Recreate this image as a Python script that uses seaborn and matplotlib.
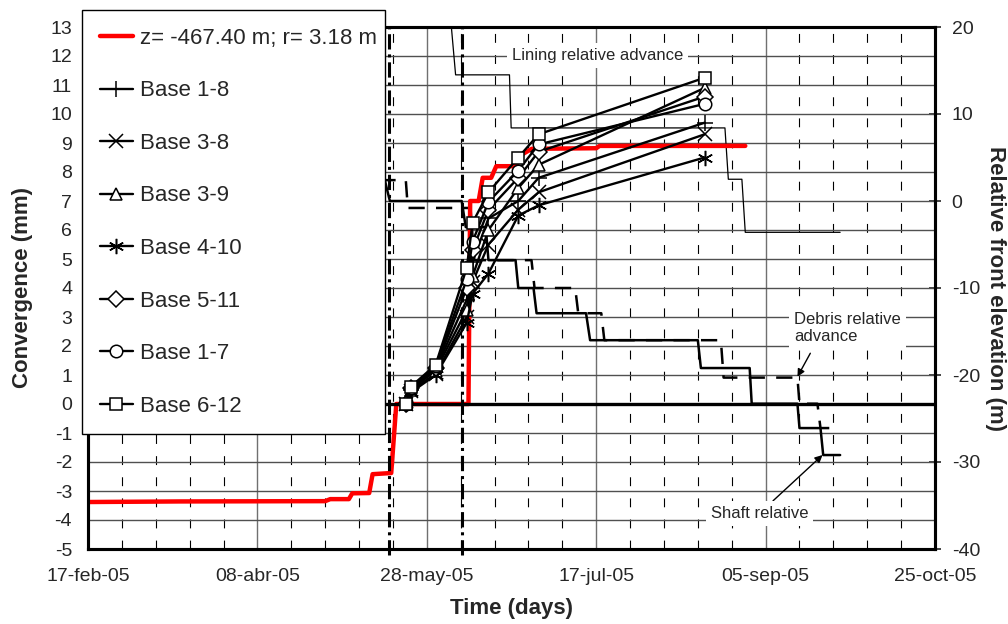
import matplotlib
matplotlib.use('Agg')
import matplotlib.pyplot as plt
import seaborn as sns
from matplotlib.ticker import FixedLocator, MultipleLocator
from matplotlib.transforms import blended_transform_factory

# ---------------- data ----------------
# x positions are days after 17-feb-05
x_tick_days = [0, 50, 100, 150, 200, 250]
x_tick_labels = ['17-feb-05', '08-abr-05', '28-may-05', '17-jul-05', '05-sep-05', '25-oct-05']
conv_ticks = list(range(-5, 14))
elev_ticks = list(range(-40, 21, 10))

red_label = 'z= -467.40 m; r= 3.18 m'
red_days = [0, 27, 70, 71.5, 77, 78, 83, 84, 89.5, 91, 112.3, 112.8, 115.3, 116.5,
            119, 120.5, 126.3, 128, 131, 150, 151, 194]
red_conv = [-3.38, -3.36, -3.35, -3.28, -3.28, -3.08, -3.07, -2.42, -2.38, 0, 0, 7.0, 7.0, 7.8,
            7.8, 8.2, 8.2, 8.6, 8.8, 8.82, 8.9, 8.9]

base_days = [94, 95.3, 102.6, 111.8, 113.5, 118.2, 127, 133, 182]
base_names = ['Base 1-8', 'Base 3-8', 'Base 3-9', 'Base 4-10', 'Base 5-11', 'Base 1-7', 'Base 6-12']
base_1_8 = [0, 0.50, 1.20, 3.60, 4.90, 6.40, 7.00, 7.80, 9.70]
base_3_8 = [0, 0.45, 1.05, 3.00, 4.20, 5.50, 6.70, 7.30, 9.30]
base_3_9 = [0, 0.50, 1.15, 3.25, 4.40, 6.00, 7.45, 8.25, 10.90]
base_4_10 = [0, 0.40, 1.00, 2.80, 3.80, 4.50, 6.50, 6.85, 8.50]
base_5_11 = [0, 0.55, 1.25, 4.00, 5.30, 6.70, 7.80, 8.70, 10.60]
base_1_7 = [0, 0.55, 1.30, 4.30, 5.60, 6.97, 8.05, 8.95, 10.35]
base_6_12 = [0, 0.60, 1.35, 4.70, 6.25, 7.30, 8.50, 9.30, 11.25]

lining_days = [106.8, 108.5, 124.4, 124.9, 188, 189, 193, 194, 222]
lining_elev = [22, 14.5, 14.5, 8.4, 8.4, 2.5, 2.5, -3.6, -3.6]

shaft_days = [86, 87.6, 89.1, 110.3, 111.5, 117.4, 118.2, 126.2, 127, 131.5, 132.4, 147, 148.2,
              180, 180.9, 195.3, 195.9, 209.4, 210, 216.2, 217, 222]
shaft_elev = [2.4, 2.4, 0, 0, -3, -3, -6.8, -6.8, -10, -10, -12.9, -12.9, -16,
              -16, -19.2, -19.2, -23.3, -23.3, -26.1, -26.1, -29.2, -29.2]

debris_days = [86, 93.8, 94.4, 112.9, 114, 130.9, 131.8, 143.8, 144.7, 151.5, 152.4, 186.8,
               187.6, 209.4, 210, 215.3, 216.2, 222]
debris_elev = [2.4, 2.4, -0.8, -0.8, -6.8, -6.8, -10, -10, -12.9, -12.9, -16, -16,
               -20.3, -20.3, -23.3, -23.3, -26.1, -26.1]

event_days = [88.8, 110.3]

# ---------------- style ----------------
sns.set_style('white')
plt.rcParams['font.family'] = ['Liberation Sans', 'DejaVu Sans']
plt.rcParams['axes.unicode_minus'] = False

W, H = 1008, 624
fig = plt.figure(figsize=(W / 100, H / 100), dpi=100)
ax_e = fig.add_axes([88 / W, 1 - 549 / H, 847 / W, 522 / H])   # right scale (bottom layer)
ax_c = ax_e.twinx()                                           # left scale (top layer)
ax_c.yaxis.tick_left()
ax_c.yaxis.set_label_position('left')
ax_e.yaxis.tick_right()
ax_e.yaxis.set_label_position('right')

# ---- elevation (right) axis: grid + step lines ----
ax_e.xaxis.set_major_locator(FixedLocator(x_tick_days))
ax_e.xaxis.set_minor_locator(MultipleLocator(10))
ax_e.xaxis.grid(True, which='major', color='#707070', linewidth=1.0)
ax_e.xaxis.grid(True, which='minor', color='black', linewidth=0.8, linestyle=(0, (8, 11)))
ax_e.yaxis.grid(False)

sns.lineplot(x=lining_days, y=lining_elev, ax=ax_e, color='black', linewidth=0.9,
             sort=False, estimator=None, zorder=2)
sns.lineplot(x=debris_days, y=debris_elev, ax=ax_e, color='black', linewidth=1.8,
             linestyle=(0, (6.5, 4.5)), sort=False, estimator=None, zorder=2)
sns.lineplot(x=shaft_days, y=shaft_elev, ax=ax_e, color='black', linewidth=1.8,
             sort=False, estimator=None, zorder=2)

ax_e.set_xlim(0, 250)
ax_e.set_ylim(-40, 20)
ax_e.set_yticks(elev_ticks)
ax_e.set_xticks(x_tick_days)
ax_e.set_xticklabels(x_tick_labels)

# horizontal grid at each convergence unit (drawn under everything)
hgrid = blended_transform_factory(ax_e.transAxes, ax_c.transData)
for lv in conv_ticks[1:-1]:
    ax_e.plot([0, 1], [lv, lv], transform=hgrid, color='#505050', linewidth=1.0, zorder=0.8)

box = dict(boxstyle='square,pad=0.3', facecolor='white', edgecolor='none')
ax_e.text(150.3, 16.7, 'Lining relative advance', fontsize=12, ha='center', va='center',
          bbox=box, zorder=3)
ax_e.text(208.5, -14.6, 'Debris relative\nadvance', fontsize=12, ha='left', va='center',
          bbox=box, zorder=3, linespacing=1.15)
ax_e.annotate('', xy=(209.4, -20.2), xytext=(213.2, -17.5),
              arrowprops=dict(arrowstyle='-|>', color='black', lw=1.0, mutation_scale=11,
                              shrinkA=0, shrinkB=0), zorder=3)
ax_e.annotate('Shaft relative', xy=(216.8, -29.2), xytext=(198.2, -35.9), fontsize=12,
              ha='center', va='center', bbox=box, zorder=3,
              arrowprops=dict(arrowstyle='-|>', color='black', lw=1.0, mutation_scale=11,
                              shrinkA=0, shrinkB=0))

# ---- convergence (left) axis ----
sns.lineplot(x=red_days, y=red_conv, ax=ax_c, color='#ff0000', linewidth=3.2, label=red_label,
             sort=False, estimator=None, zorder=2)
ax_c.axhline(0, color='black', linewidth=2.4, zorder=3)
for d in event_days:
    ax_c.axvline(d, ymin=-0.012, ymax=1, color='black', linewidth=2.2,
                 linestyle=(0, (5, 1.6, 1, 1.6)), zorder=3, clip_on=False)

base_values = [base_1_8, base_3_8, base_3_9, base_4_10, base_5_11, base_1_7, base_6_12]
base_markers = ['+', 'x', '^', (6, 2, 0), 'D', 'o', 's']
base_msize = [11, 10, 9, 11, 8, 9, 9]
for name, vals, mk, ms in zip(base_names, base_values, base_markers, base_msize):
    sns.lineplot(x=base_days, y=vals, ax=ax_c, color='black', linewidth=1.7, marker=mk,
                 markersize=ms, markerfacecolor='white', markeredgecolor='black',
                 markeredgewidth=1.1, label=name, sort=False, estimator=None, zorder=4)

ax_c.set_xlim(0, 250)
ax_c.set_ylim(-5, 13)
ax_c.set_yticks(conv_ticks)

# ---- ticks, spines, labels ----
ax_e.tick_params(axis='x', which='both', length=0, pad=14, labelsize=14)
ax_e.tick_params(axis='y', direction='inout', length=8, width=1.2, pad=8, labelsize=14,
                 right=True, left=False, labelright=True, labelleft=False)
ax_c.tick_params(axis='y', length=0, pad=11.5, labelsize=14, left=True, right=False,
                 labelleft=True, labelright=False)
for a in (ax_e, ax_c):
    for s in a.spines.values():
        s.set_visible(True)
        s.set_color('black')
        s.set_linewidth(2.2)

ax_e.set_xlabel('Time (days)', fontsize=16, fontweight='bold')
ax_e.xaxis.set_label_coords(0.5, -0.094)
ax_c.set_ylabel('Convergence (mm)', fontsize=16, fontweight='bold')
ax_c.yaxis.set_label_coords(-0.065, 0.5)
ax_e.set_ylabel('Relative front elevation (m)', fontsize=16, fontweight='bold',
                rotation=-90, va='bottom')
ax_e.yaxis.set_label_coords(1.059, 0.5)

handles, labels = ax_c.get_legend_handles_labels()
leg = ax_c.legend(handles, labels, loc='upper left',
                  bbox_to_anchor=(82 / W, 1 - 430 / H, 303 / W, 420 / H),
                  bbox_transform=fig.transFigure, mode='expand', borderaxespad=0,
                  fontsize=16, borderpad=0.8, labelspacing=1.42, handlelength=1.5,
                  handletextpad=0.3, numpoints=1, frameon=True, fancybox=False,
                  framealpha=1, shadow=False)
leg.get_frame().set_edgecolor('black')
leg.get_frame().set_linewidth(1.0)
leg.set_zorder(10)

fig.savefig('out.png', dpi=100, facecolor='white')
